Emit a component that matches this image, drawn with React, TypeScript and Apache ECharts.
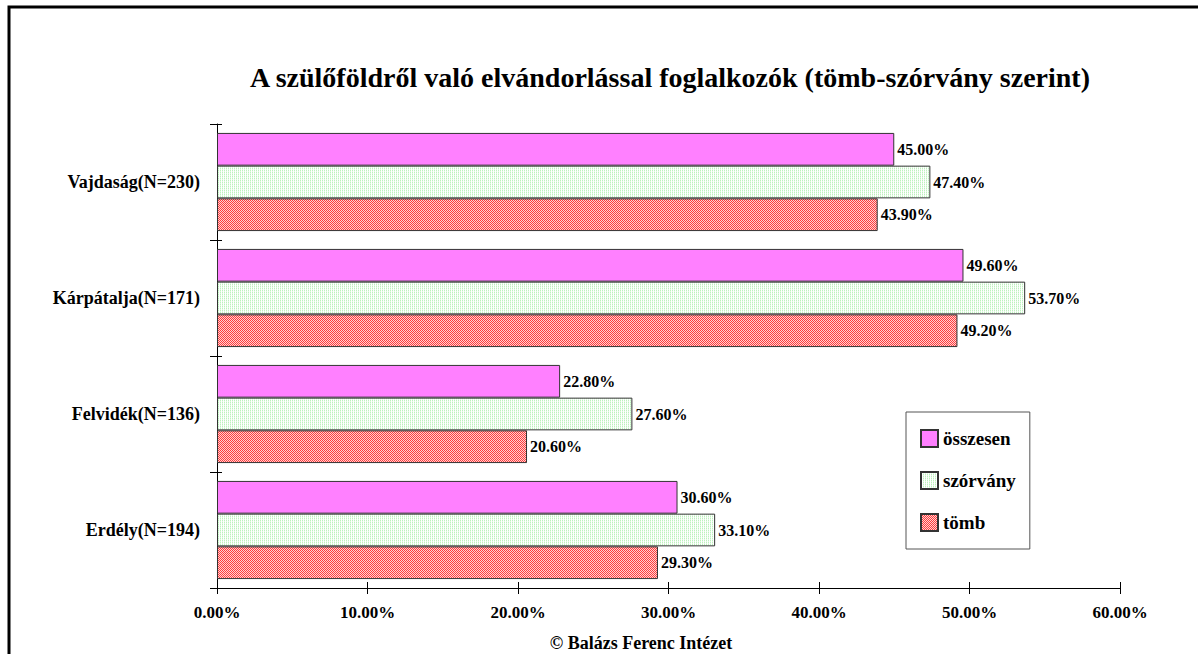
import React, { useEffect, useRef } from "react";
import * as echarts from "echarts";

const categories = ["Erdély(N=194)", "Felvidék(N=136)", "Kárpátalja(N=171)", "Vajdaság(N=230)"];
const osszesen = [30.6, 22.8, 49.6, 45.0];
const szorvany = [33.1, 27.6, 53.7, 47.4];
const tomb = [29.3, 20.6, 49.2, 43.9];
const seriesNames = ["összesen", "szórvány", "tömb"];
const titleText = "A szülőföldről való elvándorlással foglalkozók (tömb-szórvány szerint)";
const footerText = "© Balázs Ferenc Intézet";

const FONT = "'Liberation Serif', 'Times New Roman', serif";

function makePattern(cells: string[][]): HTMLCanvasElement {
  const c = document.createElement("canvas");
  c.width = cells[0].length;
  c.height = cells.length;
  const ctx = c.getContext("2d")!;
  cells.forEach((row, y) =>
    row.forEach((col, x) => {
      ctx.fillStyle = col;
      ctx.fillRect(x, y, 1, 1);
    })
  );
  return c;
}

export default function App() {
  const ref = useRef<HTMLDivElement>(null);
  useEffect(() => {
    if (!ref.current) return;
    const chart = echarts.init(ref.current, undefined, { renderer: "svg" });
    const greenPat = makePattern([
      ["#bdf2bd", "#ffffff"],
      ["#e2fae2", "#ffffff"],
    ]);
    const redPat = makePattern([
      ["#ff3c3c", "#ffd2d2"],
      ["#ffd2d2", "#ff3c3c"],
    ]);
    const fmt = (v: number) => v.toFixed(2) + "%";
    const labelCfg = {
      show: true,
      position: "right" as const,
      distance: 3,
      formatter: (p: any) => fmt(p.value),
      fontFamily: FONT,
      fontWeight: "bold" as const,
      fontSize: 16,
      color: "#000",
    };
    const border = { borderColor: "#333", borderWidth: 1 };
    chart.setOption({
      animation: false,
      backgroundColor: "#fff",
      textStyle: { fontFamily: FONT },
      grid: { left: 217, right: 78, top: 124, bottom: 66, containLabel: false },
      legend: {
        data: seriesNames,
        orient: "vertical",
        left: 906,
        top: 412,
        padding: [17, 14, 17, 14],
        itemGap: 23,
        itemWidth: 17,
        itemHeight: 17,
        itemTextGap: 8,
        icon: "rect",
        borderColor: "#555",
        borderWidth: 1,
        textStyle: { fontFamily: FONT, fontWeight: "bold", fontSize: 19, color: "#000" },
      },
      xAxis: [
        {
          type: "value",
          min: 0,
          max: 60,
          interval: 10,
          splitLine: { show: false },
          axisLine: { show: true, lineStyle: { color: "#000", width: 1 } },
          axisTick: { show: true, length: 6, lineStyle: { color: "#000" } },
          axisLabel: {
            formatter: (v: number) => fmt(v),
            fontFamily: FONT,
            fontWeight: "bold",
            fontSize: 17,
            color: "#000",
            margin: 16,
          },
        },
        {
          type: "value",
          min: 0,
          max: 60,
          interval: 10,
          position: "bottom",
          splitLine: { show: false },
          axisLine: { show: false },
          axisTick: { show: true, inside: true, length: 6, lineStyle: { color: "#000" } },
          axisLabel: { show: false },
        },
      ],
      yAxis: [
        {
          type: "category",
          data: categories,
          axisLine: { show: true, lineStyle: { color: "#000", width: 1 } },
          axisTick: { show: true, length: 7, lineStyle: { color: "#000" } },
          axisLabel: {
            fontFamily: FONT,
            fontWeight: "bold",
            fontSize: 18,
            color: "#000",
            margin: 17,
          },
        },
        {
          type: "category",
          data: categories,
          position: "left",
          axisLine: { show: false },
          axisTick: { show: true, inside: true, length: 5, lineStyle: { color: "#000" } },
          axisLabel: { show: false },
        },
      ],
      series: [
        {
          name: "összesen",
          type: "bar",
          data: osszesen,
          barGap: "0%",
          barCategoryGap: "15.4%",
          itemStyle: { color: "#ff80ff", ...border },
          label: labelCfg,
        },
        {
          name: "szórvány",
          type: "bar",
          data: szorvany,
          barGap: "0%",
          barCategoryGap: "15.4%",
          itemStyle: { color: { image: greenPat, repeat: "repeat" }, ...border },
          label: labelCfg,
        },
        {
          name: "tömb",
          type: "bar",
          data: tomb,
          barGap: "0%",
          barCategoryGap: "15.4%",
          itemStyle: { color: { image: redPat, repeat: "repeat" }, ...border },
          label: labelCfg,
        },
      ],
      graphic: [
        {
          type: "rect",
          silent: true,
          z: 100,
          shape: { x: 9, y: 7, width: 1400, height: 900 },
          style: { fill: "none", stroke: "#000", lineWidth: 3 },
        },
        {
          type: "text",
          x: 670,
          y: 77,
          style: {
            text: titleText,
            fontFamily: FONT,
            fontWeight: "bold",
            fontSize: 28,
            fill: "#000",
            textAlign: "center",
            textVerticalAlign: "middle",
          },
        },
        {
          type: "text",
          x: 641,
          y: 643,
          style: {
            text: footerText,
            fontFamily: FONT,
            fontWeight: "bold",
            fontSize: 18,
            fill: "#000",
            textAlign: "center",
            textVerticalAlign: "middle",
          },
        },
      ],
    });
    return () => chart.dispose();
  }, []);
  return (
    <div
      ref={ref}
      style={{ position: "fixed", left: 0, top: 0, width: 1198, height: 654, overflow: "hidden" }}
    />
  );
}
